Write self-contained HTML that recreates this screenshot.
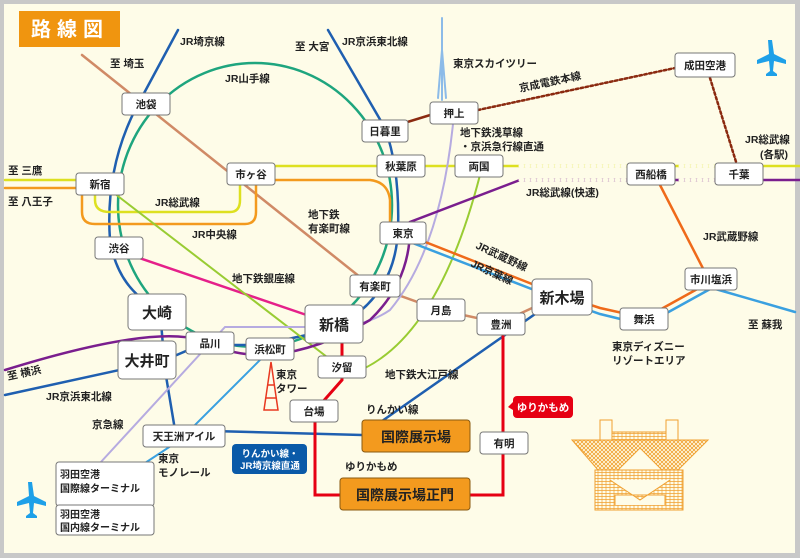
<!DOCTYPE html>
<html><head><meta charset="utf-8"><style>
body{margin:0;background:#ccc}
svg{display:block}
text{font-family:"Liberation Sans","Noto Sans CJK JP",sans-serif;font-size:10.5px;fill:#222;font-weight:bold}
.st rect{fill:#fff;stroke:#777;stroke-width:1}
</style></head><body>
<svg width="800" height="558" viewBox="0 0 800 558" xmlns="http://www.w3.org/2000/svg">
<defs><pattern id="h" width="4" height="4" patternUnits="userSpaceOnUse"><path d="M0,0 L4,4 M4,0 L0,4" stroke="#f0a030" stroke-width="0.8"/></pattern>
<pattern id="hz" width="4" height="3" patternUnits="userSpaceOnUse"><path d="M0,1.5 L4,1.5 M2,0 L2,3" stroke="#f0a030" stroke-width="0.7"/></pattern></defs>
<rect x="0" y="0" width="800" height="558" fill="#c8c8c8"/>
<rect x="4" y="4" width="791" height="549" fill="#fefce8"/>
<rect x="19" y="11" width="101" height="36" fill="#f0950f"/>
<text x="70" y="36" text-anchor="middle" style="fill:#fff;font-size:20px" letter-spacing="6">路線図</text>
<g fill="none" stroke-linecap="round">
<path d="M82,55 L370,285 L440,310 L500,323 L560,295" stroke="#d08a66" stroke-width="2.5"/>
<ellipse cx="255" cy="205" rx="137" ry="142" stroke="#1ea57e" stroke-width="2.5"/>
<path d="M178,30 L135,110 Q105,170 110,240 Q118,290 160,310 L165,370 L175,430 L362,435 L548,305" stroke="#1f5fb0" stroke-width="2.5"/>
<path d="M328,30 L385,128 Q400,170 398,230 Q395,300 330,330 L260,345 L200,345 L165,360 L5,395" stroke="#1f5fb0" stroke-width="2.5"/>
<path d="M5,180 L95,180 L95,200 Q95,212 110,212 L230,212 Q240,212 240,200 L240,166 L800,166" stroke="#dde020" stroke-width="2.5"/>
<path d="M520,166 L640,166 M680,166 L720,166" stroke="#fefce8" stroke-width="3" stroke-dasharray="3,3"/>
<path d="M5,188 L82,188 L82,212 Q82,224 95,224 L245,224 Q256,224 256,212 L256,180 L370,180 Q388,182 390,200 L390,232" stroke="#f39a1e" stroke-width="2.5"/>
<path d="M110,248 L330,323" stroke="#e5208a" stroke-width="2.5"/>
<path d="M110,190 L340,367 M365,368 Q440,330 480,175" stroke="#99cc33" stroke-width="2"/>
<path d="M453,124 Q440,250 390,310 Q365,327 330,327 L225,327 L100,463" stroke="#b6abe0" stroke-width="2"/>
<path d="M800,180 L520,180 L410,222 Q412,280 370,320 Q320,350 270,355 Q235,357 200,340 Q150,325 5,370" stroke="#7a1e8e" stroke-width="2.5"/>
<path d="M680,180 L720,180 M520,180 L630,180" stroke="#fefce8" stroke-width="3" stroke-dasharray="3,3"/>
<path d="M660,185 L710,282 L645,318 L600,308 L560,295 L410,236" stroke="#ef6a1a" stroke-width="2.5"/>
<path d="M410,242 L560,300 L600,314 L645,325 L712,288 L795,312" stroke="#3aa0e0" stroke-width="2.5"/>
<path d="M268,352 L180,440 L145,463 M117,480 L117,510" stroke="#3aa0e0" stroke-width="2"/>
<path d="M88,480 L88,510" stroke="#b6abe0" stroke-width="2"/>
<path d="M342,340 L342,380 L320,405 L315,410 L315,495 L340,495 M470,495 L503,495 L503,330" stroke="#e60012" stroke-width="3" stroke-linecap="butt"/>
<path d="M388,128 L440,112" stroke="#8b2a10" stroke-width="2.5"/>
<path d="M478,110 L675,68 M710,78 L737,165" stroke="#8b2a10" stroke-width="2.5" stroke-dasharray="2.5,2.5"/>
<path d="M442,18 L442,100 M438,98 L442,50 L446,98" stroke="#8cbbe8" stroke-width="2"/>
</g>
<path d="M271,362 L264,410 L278,410 Z" fill="none" stroke="#e83820" stroke-width="1.5"/>
<path d="M266,398 L276,398 M267,385 L275,385" stroke="#e83820" stroke-width="1.5"/>
<g fill="#1ea0e8"><path d="M768,40 l4,0 l2,14 l12,6 l0,4 l-12,-3 l-1,10 l4,3 l0,2 l-11,0 l0,-2 l4,-3 l-1,-10 l-12,3 l0,-4 l12,-6 z"/>
<path d="M28,482 l4,0 l2,14 l12,6 l0,4 l-12,-3 l-1,10 l4,3 l0,2 l-11,0 l0,-2 l4,-3 l-1,-10 l-12,3 l0,-4 l12,-6 z"/></g>
<g stroke="#f0a030" stroke-width="1">
<path d="M572,440 L708,440 L678,470 L598,470 Z" fill="url(#h)"/>
<rect x="595" y="470" width="88" height="40" fill="url(#hz)"/>
<rect x="612" y="432" width="54" height="8" fill="url(#hz)"/>
<path d="M600,440 L600,420 L612,420 L612,432 M666,432 L666,420 L678,420 L678,440" fill="none"/>
<path d="M640,448 L618,470 L662,470 Z M610,480 L640,500 L670,480 M615,505 L615,495 L665,495 L665,505" fill="#fefce8"/>
</g>
<g class="st">
<rect x="122" y="93" width="48" height="22" rx="3"/>
<rect x="362" y="120" width="46" height="22" rx="3"/>
<rect x="430" y="102" width="48" height="22" rx="3"/>
<rect x="377" y="155" width="48" height="22" rx="3"/>
<rect x="455" y="155" width="48" height="22" rx="3"/>
<rect x="227" y="163" width="48" height="22" rx="3"/>
<rect x="76" y="173" width="48" height="22" rx="3"/>
<rect x="380" y="222" width="46" height="22" rx="3"/>
<rect x="95" y="237" width="48" height="22" rx="3"/>
<rect x="350" y="275" width="50" height="22" rx="3"/>
<rect x="417" y="299" width="48" height="22" rx="3"/>
<rect x="477" y="313" width="48" height="22" rx="3"/>
<rect x="532" y="279" width="60" height="36" rx="4"/>
<rect x="620" y="308" width="48" height="22" rx="3"/>
<rect x="627" y="163" width="48" height="22" rx="3"/>
<rect x="715" y="163" width="48" height="22" rx="3"/>
<rect x="675" y="53" width="60" height="24" rx="3"/>
<rect x="685" y="268" width="52" height="22" rx="3"/>
<rect x="128" y="294" width="58" height="36" rx="4"/>
<rect x="118" y="341" width="58" height="38" rx="4"/>
<rect x="186" y="332" width="48" height="22" rx="3"/>
<rect x="246" y="338" width="48" height="22" rx="3"/>
<rect x="305" y="305" width="58" height="38" rx="4"/>
<rect x="318" y="356" width="48" height="22" rx="3"/>
<rect x="290" y="400" width="48" height="22" rx="3"/>
<rect x="143" y="425" width="82" height="22" rx="3"/>
<rect x="56" y="462" width="98" height="44" rx="3"/>
<rect x="56" y="505" width="98" height="30" rx="3"/>
<rect x="480" y="432" width="48" height="22" rx="3"/>
</g>
<rect x="362" y="420" width="108" height="32" rx="3" fill="#f39a1e" stroke="#8a5a10"/>
<rect x="340" y="478" width="130" height="32" rx="3" fill="#f39a1e" stroke="#8a5a10"/>
<rect x="513" y="396" width="60" height="22" rx="4" fill="#e60012"/>
<path d="M513,402 l-5,5 l5,3z" fill="#e60012"/>
<rect x="232" y="444" width="75" height="30" rx="4" fill="#0a5aa8"/>
<g text-anchor="middle">
<text x="146" y="108">池袋</text><text x="385" y="135">日暮里</text><text x="454" y="117">押上</text>
<text x="401" y="170">秋葉原</text><text x="479" y="170">両国</text><text x="251" y="178">市ヶ谷</text>
<text x="100" y="188">新宿</text><text x="403" y="237">東京</text><text x="119" y="252">渋谷</text>
<text x="375" y="290">有楽町</text><text x="441" y="314">月島</text><text x="501" y="328">豊洲</text>
<text x="562" y="303" style="font-size:15px">新木場</text><text x="644" y="323">舞浜</text>
<text x="651" y="178">西船橋</text><text x="739" y="178">千葉</text><text x="705" y="69">成田空港</text>
<text x="711" y="283">市川塩浜</text><text x="157" y="318" style="font-size:15px">大崎</text>
<text x="147" y="366" style="font-size:15px">大井町</text><text x="210" y="347">品川</text>
<text x="270" y="353">浜松町</text><text x="334" y="330" style="font-size:15px">新橋</text>
<text x="342" y="371">汐留</text><text x="314" y="415">台場</text><text x="184" y="440">天王洲アイル</text>
<text x="504" y="447">有明</text>
<text x="416" y="442" style="font-size:14px">国際展示場</text>
<text x="405" y="500" style="font-size:14px">国際展示場正門</text>
<text x="543" y="411" style="fill:#fff">ゆりかもめ</text>
<text x="270" y="457" style="fill:#fff;font-size:9.5px">りんかい線・</text>
<text x="270" y="469" style="fill:#fff;font-size:9.5px">JR埼京線直通</text>
</g>
<g>
<text x="60" y="478" style="font-size:10px">羽田空港</text><text x="60" y="492" style="font-size:10px">国際線ターミナル</text>
<text x="60" y="518" style="font-size:10px">羽田空港</text><text x="60" y="531" style="font-size:10px">国内線ターミナル</text>
<text x="180" y="45">JR埼京線</text><text x="295" y="50">至 大宮</text><text x="342" y="45">JR京浜東北線</text>
<text x="110" y="67">至 埼玉</text><text x="225" y="82">JR山手線</text><text x="453" y="67">東京スカイツリー</text>
<text x="520" y="92" transform="rotate(-12 520 92)">京成電鉄本線</text>
<text x="460" y="136">地下鉄浅草線</text><text x="460" y="150">・京浜急行線直通</text>
<text x="745" y="143">JR総武線</text><text x="760" y="158">(各駅)</text>
<text x="526" y="196">JR総武線(快速)</text>
<text x="8" y="174">至 三鷹</text><text x="8" y="205">至 八王子</text>
<text x="155" y="206">JR総武線</text><text x="192" y="238">JR中央線</text>
<text x="308" y="218">地下鉄</text><text x="308" y="232">有楽町線</text>
<text x="232" y="282">地下鉄銀座線</text>
<text x="703" y="240">JR武蔵野線</text>
<text x="475" y="248" transform="rotate(25 475 248)">JR武蔵野線</text>
<text x="470" y="266" transform="rotate(25 470 266)">JR京葉線</text>
<text x="748" y="328">至 蘇我</text>
<text x="612" y="350">東京ディズニー</text><text x="612" y="364">リゾートエリア</text>
<text x="8" y="380" transform="rotate(-12 8 380)">至 横浜</text>
<text x="46" y="400">JR京浜東北線</text><text x="92" y="428">京急線</text>
<text x="276" y="378">東京</text><text x="276" y="392">タワー</text>
<text x="385" y="378">地下鉄大江戸線</text>
<text x="366" y="413">りんかい線</text><text x="345" y="470">ゆりかもめ</text>
<text x="158" y="462">東京</text><text x="158" y="476">モノレール</text>
</g>
</svg>
</body></html>
